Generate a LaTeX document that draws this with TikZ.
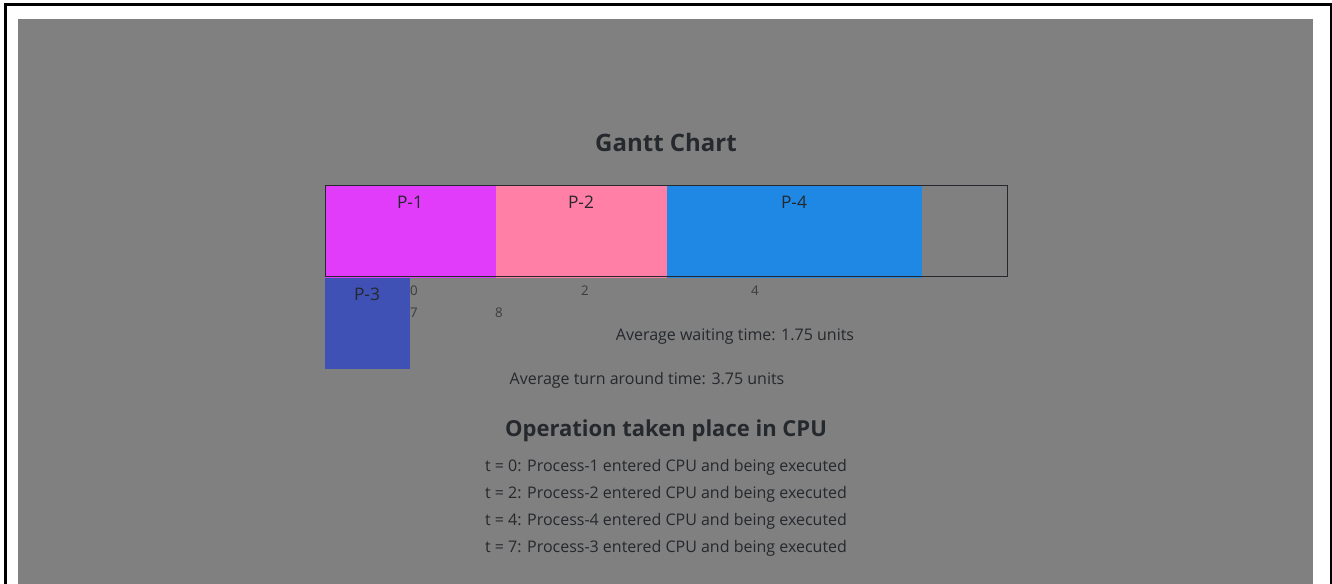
\documentclass[tikz,border=0pt]{standalone}
\usepackage{fontspec}
\setmainfont{Open Sans}
\usetikzlibrary{positioning}
\definecolor{dimgray}{HTML}{808080}
\definecolor{inkdark}{HTML}{25282C}
\definecolor{inksoft}{HTML}{3A3C3F}
\definecolor{procone}{HTML}{E03CFA}
\definecolor{proctwo}{HTML}{FF7FA7}
\definecolor{procthree}{HTML}{3F51B5}
\definecolor{procfour}{HTML}{1E88E4}
\newcommand{\pxfont}[1]{\fontsize{#1}{#1}\selectfont}

\begin{document}
\begin{tikzpicture}[x=0.75pt, y=-0.75pt,
  barlabel/.style={text=inkdark, inner sep=0pt, font=\pxfont{13pt}},
  ticklabel/.style={text=inksoft, inner sep=0pt, font=\pxfont{10pt}},
  infotext/.style={text=inkdark, inner sep=0pt, font=\pxfont{12pt}},
  headline/.style={text=inkdark, inner sep=0pt, font=\bfseries\pxfont{18pt}}]
  \useasboundingbox (0,0) rectangle (1332,584);

  % --- Frame and dimmed page ---
  \fill[white] (0,0) rectangle (1332,584);
  \fill[dimgray] (18,19) rectangle (1313,584);
  \draw[black, line width=2.5pt] (5.5,584) -- (5.5,4.5) -- (1332,4.5);
  \draw[black, line width=1pt] (1331,4.5) -- (1331,584);

  % --- Title ---
  \node[headline] (title) at (666,143) {Gantt Chart};

  % --- Bars ---
  \fill[procone] (325,186) rectangle (496,278);
  \fill[proctwo] (496,186) rectangle (667,278);
  \fill[procfour] (667,186) rectangle (922,278);
  \fill[procthree] (325,278) rectangle (410,369);
  \draw[inkdark, line width=0.75pt] (325,186) rectangle (1007,277);

  \node[barlabel] (p1) at (410,202) {P-1};
  \node[barlabel] (p2) at (581,202) {P-2};
  \node[barlabel] (p4) at (794,202) {P-4};
  \node[barlabel] (p3) at (367,294) {P-3};

  % --- Time marks ---
  \node[ticklabel] (t0) at (414,291) {0};
  \node[ticklabel] (t2) at (585,291) {2};
  \node[ticklabel] (t4) at (755,291) {4};
  \node[ticklabel] (t7) at (414,313) {7};
  \node[ticklabel] (t8) at (499,313) {8};

  % --- Averages ---
  \node[infotext] (wait) at (735,337) {Average waiting time: 1.75 units};
  \node[infotext] (turn) at (647,380) {Average turn around time: 3.75 units};

  % --- Operations ---
  \node[headline, font=\bfseries\pxfont{16.5pt}] (ops) at (666,431) {Operation taken place in CPU};
  \node[infotext] (op1) at (666,467) {t = 0: Process-1 entered CPU and being executed};
  \node[infotext] (op2) at (666,494) {t = 2: Process-2 entered CPU and being executed};
  \node[infotext] (op3) at (666,521) {t = 4: Process-4 entered CPU and being executed};
  \node[infotext] (op4) at (666,548) {t = 7: Process-3 entered CPU and being executed};
\end{tikzpicture}
\end{document}
